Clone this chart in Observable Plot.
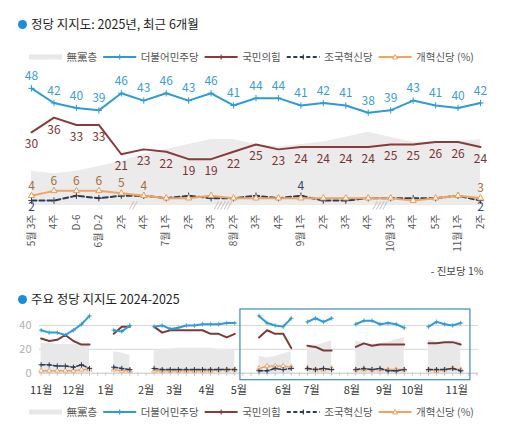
<!DOCTYPE html>
<html><head><meta charset="utf-8">
<script src="https://cdn.jsdelivr.net/npm/d3@7"></script>
<script src="https://cdn.jsdelivr.net/npm/@observablehq/plot@0.6"></script>
<style>
body{margin:0;background:#fff;font-family:"Noto Sans CJK KR","Noto Sans",sans-serif;}
#root{position:relative;width:515px;height:434px;overflow:hidden;background:#fff;}
.abs{position:absolute;}
.title{font-size:12.5px;line-height:16px;color:#1e1e1e;white-space:nowrap;}
.dot{position:absolute;width:9px;height:9px;border-radius:50%;background:#1b8de0;}
.note{font-size:10.5px;line-height:14px;color:#444;white-space:nowrap;}
</style></head>
<body><div id="root"></div>
<script>
// ---------- data: top chart (2025, last 6 months) ----------
const weekLabels = ["5월 3주","4주","D-6","6월 D-2","2주","4주","7월 1주","2주","3주","8월 2주","3주","4주","9월 1주","2주","3주","4주","10월 3주","4주","5주","11월 1주","2주"];
const minju      = [48,42,40,39,46,43,46,43,46,41,44,44,41,42,41,38,39,43,41,40,42];
const ppp        = [30,36,33,33,21,23,22,19,19,22,25,23,24,24,24,24,25,25,26,26,24];
const rebuilding = [2,2,4,3,4,4,3,4,3,3,4,3,4,2,2,3,3,3,3,4,2];
const reform     = [4,6,6,6,5,4,3,3,4,3,3,3,3,3,3,3,3,2,3,4,3];
const nonpartisan= [14,13,14,16,18,21,23,25,27,27,25,24,25,26,28,30,28,26,26,26,27];
const reformLabelIdx = [0,1,2,3,4,5,20];
const rebuildLabelAbove = [12];
const rebuildLabelBelow = [0,20];
const breakAfter = [4,8,15];
const breakMarks = ["//","/////","////"];

// ---------- data: bottom chart (2024-2025) ----------
const earlySlots = [0,1,2,3,4,5,6, 9,10,11, 14,15,16,17,18,19,20,21,22,23,24];
const earlySeg   = [0,0,0,0,0,0,0, 1,1,1, 2,2,2,2,2,2,2,2,2,2,2];
const earlyMinju = [36,34,34,32,36,41,48, 36,35,40, 39,40,37,38,40,40,41,41,41,42,42];
const earlyPpp   = [29,27,28,32,27,24,24, 33,39,39, 39,34,36,36,36,36,36,33,33,30,33];
const earlyRebuild = [7,7,6,6,5,7,4, 5,4,3, 4,3,3,3,3,3,3,3,3,3,3];
const earlyReform  = [2,2,2,2,2,3,3, 3,2,2, 2,2,2,2,2,2,2,2,3,3,3];
const earlyNonpartisan = [25,25,24,24,24,24,24, 18,17,15, 19,20,20,21,21,21,21,21,20,20,19];
const recentSlots = [27,28,29,30,31, 33,34,35,36, 39,40,41,42,43,44,45, 48,49,50,51,52];
const recentSeg   = [3,3,3,3,3, 4,4,4,4, 5,5,5,5,5,5,5, 6,6,6,6,6];
const monthTicks  = [0,4,8,13,16.5,20.5,24.5,30,33.5,38.5,42.5,46,51.5];
const monthLabels = ["11월","12월","1월","2월","3월","4월","5월","6월","7월","8월","9월","10월","11월"];
const highlightSlots = [24.7, 53.2];
const yTicksBottom = [0,20,40];

// ---------- legend ----------
const seriesNames  = ["無黨층","더불어민주당","국민의힘","조국혁신당","개혁신당 (%)"];
const seriesColors = ["#e8e8e8","#2f9bd6","#8b3a3a","#2d3b57","#f4a35e"];
const seriesKinds  = ["area","line","line","dash","tri"];

const FONT = '"Noto Sans CJK KR","Noto Sans",sans-serif';
const root = document.getElementById("root");

function addTitle(text, cy){
  const d = document.createElement("div"); d.className="dot";
  d.style.left = (22.5-4.5)+"px"; d.style.top=(cy-4.5)+"px"; root.appendChild(d);
  const t = document.createElement("div"); t.className="abs title";
  t.style.left="31px"; t.style.top=(cy-8.5)+"px"; t.textContent=text; root.appendChild(t);
}
function addLegend(cy){
  const svg = d3.select(root).append("svg").attr("class","abs")
    .style("left","0px").style("top",(cy-10)+"px").attr("width",515).attr("height",20);
  let x = 29; const y = 10;
  seriesNames.forEach((name,k)=>{
    const c = seriesColors[k], kind = seriesKinds[k];
    if(kind==="area"){
      svg.append("rect").attr("x",x).attr("y",y-2.5).attr("width",33).attr("height",5).attr("fill",c);
    } else {
      const l = svg.append("line").attr("x1",x).attr("x2",x+33).attr("y1",y).attr("y2",y)
        .attr("stroke",c).attr("stroke-width",2);
      if(kind==="dash") l.attr("stroke-dasharray","4,2.5");
      const mx = x+16.5;
      if(kind==="tri"){
        svg.append("path").attr("d",`M${mx},${y-2.5}L${mx+2.5},${y+2}L${mx-2.5},${y+2}Z`)
          .attr("fill","#fff").attr("stroke",c).attr("stroke-width",1);
      } else {
        svg.append("path").attr("d",`M${mx},${y-2.5}V${y+2.5}`).attr("stroke",c).attr("stroke-width",1.2);
      }
    }
    x += 33 + 4.5;
    const t = svg.append("text").attr("x",x).attr("y",y).attr("dy","0.35em")
      .attr("font-family",FONT).attr("font-size",10.5).attr("fill","#555").text(name);
    x += t.node().getComputedTextLength() + 6;
  });
}

// ---------- top ----------
addTitle("정당 지지도: 2025년, 최근 6개월", 24.5);
addLegend(57);

const topData = weekLabels.map((label,i)=>({i,label,minju:minju[i],ppp:ppp[i],reb:rebuilding[i],ref:reform[i],np:nonpartisan[i]}));
const breaks = breakAfter.map((a,k)=>({x:a+0.5, mark:breakMarks[k]}));

const topPlot = Plot.plot({
  width:515, height:200, marginLeft:31, marginRight:35, marginTop:18, marginBottom:60,
  style:{fontFamily:FONT, color:"#555", background:"transparent"},
  x:{type:"linear", domain:[0,20], axis:null},
  y:{domain:[0,50], axis:null},
  marks:[
    Plot.areaY(topData,{x:"i", y:"np", fill:"#ebebeb"}),
    Plot.axisX({ticks:topData.map(d=>d.i), tickFormat:i=>weekLabels[i], tickRotate:-90, tickSize:0, tickPadding:9, fontSize:10, fill:"#555", label:null}),
    Plot.text(breaks,{x:"x", y:0, text:"mark", fontSize:8.5, fill:"#9a9a9a", fontStyle:"italic", dy:0}),
    Plot.lineY(topData,{x:"i", y:"reb", stroke:"#2d3b57", strokeWidth:2, strokeDasharray:"5,3"}),
    Plot.dot(topData,{x:"i", y:"reb", symbol:"plus", r:2.2, stroke:"#2d3b57", strokeWidth:1}),
    Plot.lineY(topData,{x:"i", y:"ref", stroke:"#f4a35e", strokeWidth:2}),
    Plot.dot(topData,{x:"i", y:"ref", symbol:"triangle", r:2.3, fill:"#fff", stroke:"#e99a55", strokeWidth:1}),
    Plot.lineY(topData,{x:"i", y:"ppp", stroke:"#8b3a3a", strokeWidth:2}),
    Plot.lineY(topData,{x:"i", y:"minju", stroke:"#2f9bd6", strokeWidth:2}),
    Plot.dot(topData,{x:"i", y:"minju", symbol:"plus", r:2.2, stroke:"#2f9bd6", strokeWidth:1}),
    Plot.text(topData,{x:"i", y:"minju", text:d=>d.minju, dy:-12, fontSize:12, fill:"#3b9dd4"}),
    Plot.text(topData,{x:"i", y:"ppp", text:d=>d.ppp, dy:12, fontSize:12, fill:"#7b3434"}),
    Plot.text(topData.filter(d=>reformLabelIdx.includes(d.i)),{x:"i", y:"ref", text:d=>d.ref, dy:-10, fontSize:12, fill:"#a0703a"}),
    Plot.text(topData.filter(d=>rebuildLabelAbove.includes(d.i)),{x:"i", y:"reb", text:d=>d.reb, dy:-10, fontSize:12, fill:"#34466a"}),
    Plot.text(topData.filter(d=>rebuildLabelBelow.includes(d.i)),{x:"i", y:"reb", text:d=>d.reb, dy:7, fontSize:12, fill:"#34466a"})
  ]
});
topPlot.style.position="absolute"; topPlot.style.left="0px"; topPlot.style.top="65px";
root.appendChild(topPlot);

const note = document.createElement("div"); note.className="abs note";
note.style.right=(515-483.5)+"px"; note.style.top=(271-7)+"px"; note.textContent="- 진보당 1%";
root.appendChild(note);

// ---------- bottom ----------
addTitle("주요 정당 지지도 2024-2025", 299);

const bottomData = [
  ...earlySlots.map((slot,k)=>({slot, seg:earlySeg[k], minju:earlyMinju[k], ppp:earlyPpp[k], reb:earlyRebuild[k], ref:earlyReform[k], np:earlyNonpartisan[k]})),
  ...recentSlots.map((slot,k)=>({slot, seg:recentSeg[k], minju:minju[k], ppp:ppp[k], reb:rebuilding[k], ref:reform[k], np:nonpartisan[k]}))
];

const bottomPlot = Plot.plot({
  width:515, height:100, marginLeft:39, marginRight:37, marginTop:13, marginBottom:27.3,
  style:{fontFamily:FONT, color:"#555", background:"transparent", overflow:"visible"},
  x:{type:"linear", domain:[-0.2,54.2], axis:null},
  y:{domain:[0,50], axis:null},
  marks:[
    Plot.ruleY(yTicksBottom.filter(v=>v>0),{stroke:"#d6d6d6"}),
    Plot.areaY(bottomData,{x:"slot", y:"np", z:"seg", fill:"#e8e8e8"}),
    Plot.ruleY([0],{stroke:"#c4c4c4"}),
    Plot.axisX({ticks:d3.range(0,55), tickFormat:()=>"", tickSize:3, stroke:"#c4c4c4", label:null}),
    Plot.axisX({ticks:monthTicks, tickFormat:d=>monthLabels[monthTicks.indexOf(d)], tickSize:0, tickPadding:13, fontSize:11, fill:"#333", label:null}),
    Plot.axisY({ticks:yTicksBottom, tickSize:0, tickPadding:8, fontSize:11, fill:"#b0b0b0", label:null}),
    Plot.lineY(bottomData,{x:"slot", y:"ref", z:"seg", stroke:"#f4a35e", strokeWidth:1.5}),
    Plot.dot(bottomData,{x:"slot", y:"ref", symbol:"triangle", r:1.8, fill:"#fff", stroke:"#e99a55", strokeWidth:0.8}),
    Plot.lineY(bottomData,{x:"slot", y:"reb", z:"seg", stroke:"#2d3b57", strokeWidth:1.5, strokeDasharray:"4,2"}),
    Plot.dot(bottomData,{x:"slot", y:"reb", symbol:"plus", r:1.8, stroke:"#2d3b57", strokeWidth:1}),
    Plot.lineY(bottomData,{x:"slot", y:"ppp", z:"seg", stroke:"#7d3a38", strokeWidth:2}),
    Plot.lineY(bottomData,{x:"slot", y:"minju", z:"seg", stroke:"#2f9bd6", strokeWidth:2}),
    Plot.dot(bottomData,{x:"slot", y:"minju", symbol:"plus", r:1.6, stroke:"#2f9bd6", strokeWidth:0.8}),
    Plot.rect([highlightSlots],{x1:d=>d[0], x2:d=>d[1], fill:"none", stroke:"#3d8db5", strokeWidth:1.2, insetTop:-4, insetBottom:-7})
  ]
});
bottomPlot.style.position="absolute"; bottomPlot.style.left="0px"; bottomPlot.style.top="300px";
root.appendChild(bottomPlot);

addLegend(412);
</script>
</body></html>
